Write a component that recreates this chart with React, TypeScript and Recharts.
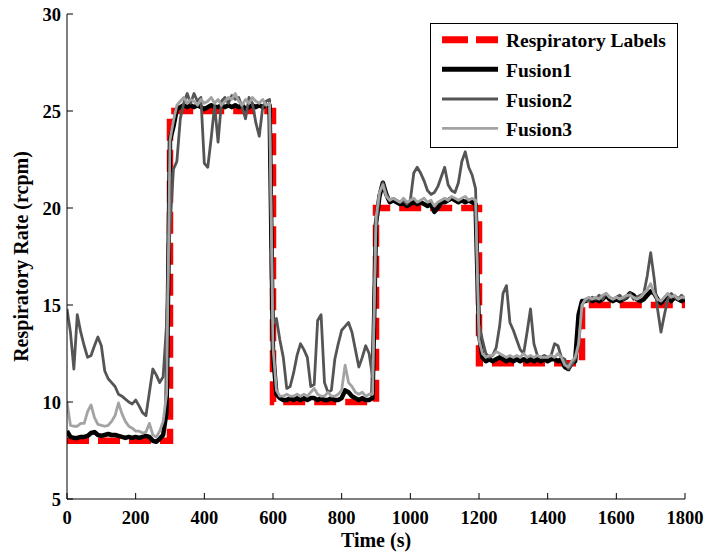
import React from 'react';
import { LineChart, Line, XAxis, YAxis, Legend } from 'recharts';

// sample times (s), one sample every 10 s from 0 to 1800
const times: number[] = Array.from({ length: 181 }, (_, i) => i * 10);

// respiratory labels (step function)
const labelTimes = [0, 300, 600, 900, 1200, 1500, 1800];
const labelValues = [8, 25, 10, 20, 12, 15, 15];

const fusion1 = [
  8.5, 8.2, 8.15, 8.15, 8.2, 8.2, 8.25, 8.4, 8.45, 8.3,
  8.25, 8.3, 8.35, 8.3, 8.3, 8.25, 8.2, 8.15, 8.2, 8.15,
  8.2, 8.15, 8.2, 8.25, 8.2, 8.0, 7.95, 8.1, 8.3, 9.5,
  23.5, 24.2, 25.1, 25.2, 25.3, 25.2, 25.3, 25.2, 25.3, 25.2,
  25.1, 25.2, 25.3, 25.2, 25.2, 25.3, 25.2, 25.3, 25.2, 25.3,
  25.2, 25.3, 25.1, 25.2, 25.3, 25.2, 25.3, 25.2, 25.3, 25.3,
  12.5, 10.4, 10.2, 10.1, 10.1, 10.2, 10.1, 10.2, 10.1, 10.2,
  10.1, 10.2, 10.2, 10.1, 10.2, 10.1, 10.1, 10.2, 10.1, 10.1,
  10.2, 10.6, 10.5, 10.3, 10.2, 10.1, 10.2, 10.1, 10.1, 10.2,
  19.2, 20.6, 21.3, 20.7, 20.3, 20.4, 20.3, 20.2, 20.3, 20.1,
  20.2, 20.3, 20.2, 20.3, 20.2, 20.1, 20.2, 19.8, 20.0, 20.3,
  20.3, 20.4, 20.5, 20.4, 20.3, 20.4, 20.3, 20.4, 20.3, 20.2,
  13.5, 12.3, 12.1, 12.2, 12.1, 12.2, 12.3, 12.2, 12.1, 12.2,
  12.1, 12.2, 12.1, 12.2, 12.1, 12.2, 12.1, 12.2, 12.1, 12.2,
  12.1, 12.2, 12.2, 12.1, 12.2, 11.8, 11.7, 12.0, 12.1, 14.5,
  15.2, 15.2, 15.3, 15.2, 15.3, 15.2, 15.3, 15.5, 15.3, 15.2,
  15.3, 15.2, 15.3, 15.4, 15.6, 15.5, 15.3, 15.2, 15.3, 15.5,
  15.7, 15.6, 15.3, 15.1, 15.3, 15.5, 15.2, 15.4, 15.3, 15.2, 15.3,
];

const fusion2 = [
  14.8, 13.6, 11.7, 14.5, 13.6, 12.9, 12.3, 12.4, 12.9, 13.35,
  12.9, 11.6, 11.2, 11.0, 10.8, 10.4, 10.3, 10.15, 10.0, 9.9,
  10.1, 9.8, 9.45, 9.3, 10.5, 11.7, 11.4, 11.0, 11.3, 14.0,
  19.0, 22.0, 22.4, 24.6, 25.4, 25.9, 25.4, 25.9, 25.5, 25.7,
  22.3, 22.1, 23.6, 25.3, 23.4, 25.5, 25.7, 25.4, 25.8, 25.6,
  25.7, 25.2, 24.6, 25.7, 25.4, 24.4, 23.7, 25.2, 25.5, 25.6,
  14.0, 14.3, 13.2, 12.3, 10.7, 10.8, 11.5, 12.4, 13.0, 12.7,
  12.3, 10.8, 10.9, 14.2, 14.5, 11.0, 10.5, 10.6, 12.2, 13.0,
  13.7, 13.9, 14.1, 13.6, 12.7, 11.8, 12.3, 12.9, 12.5, 11.3,
  19.0, 20.7, 21.3, 20.7, 20.4, 20.5, 20.4, 20.3, 20.4, 20.2,
  20.4, 21.8, 22.1, 21.8, 21.4, 20.9, 20.7, 20.8, 21.1, 21.6,
  22.1, 21.2, 20.9, 20.8, 21.3, 22.4, 22.9, 22.1, 21.7, 21.0,
  14.0, 13.2, 12.5, 12.3, 12.4, 12.8, 13.9, 15.6, 16.0, 14.1,
  13.7, 13.2, 12.7, 12.5, 13.6, 14.8, 13.0, 12.4, 12.3, 12.4,
  12.3, 12.4, 13.0, 12.9, 12.3, 12.2, 11.7, 11.9, 12.2, 12.8,
  15.0, 15.3, 15.2, 15.4, 15.3, 15.5, 15.3, 15.6, 15.4, 15.3,
  15.4, 15.5, 15.3, 15.4, 15.6, 15.3, 15.4, 15.5, 15.6, 16.5,
  17.7, 16.4, 14.8, 13.6, 14.5, 15.3, 15.6, 15.4, 15.3, 15.5, 15.3,
];

const fusion3 = [
  10.0, 8.8, 8.75, 8.75, 8.9, 8.9, 9.5, 9.85, 9.2, 8.85,
  8.8, 8.75, 8.8, 9.0, 9.3, 9.95, 9.4, 9.0, 8.75, 8.65,
  8.5, 8.5, 8.4, 8.45, 8.9, 8.3, 8.2, 8.5, 9.0, 10.4,
  23.5, 24.5, 25.3, 25.5, 25.7, 25.4, 25.6, 25.5, 25.3, 25.6,
  25.4, 25.5, 25.7, 25.4, 25.6, 25.3, 25.5, 25.7, 25.6, 25.9,
  25.5, 25.3, 25.6, 25.4, 25.7, 25.5, 25.4, 25.6, 25.3, 25.4,
  12.8, 10.6, 10.3, 10.3, 10.4, 10.3, 10.3, 10.4, 10.3, 10.4,
  10.3, 10.5, 10.7, 10.4, 10.3, 10.3, 10.5, 10.3, 10.3, 10.4,
  10.6, 11.9, 11.0, 10.8, 10.5, 10.4, 10.5, 10.3, 10.4, 10.4,
  19.5, 20.8, 21.2, 20.6, 20.4, 20.5, 20.4, 20.3, 20.5, 20.3,
  20.4, 20.5, 20.3, 20.4, 20.5, 20.3, 20.4, 20.1, 20.3, 20.4,
  20.5, 20.4, 20.6, 20.5, 20.4, 20.5, 20.6, 20.4, 20.5, 20.4,
  13.2, 12.5, 12.3, 12.4, 12.4, 12.6, 12.5, 12.4, 12.3, 12.4,
  12.3, 12.4, 12.3, 12.5, 12.3, 12.4, 12.3, 12.4, 12.3, 12.3,
  12.3, 12.4, 12.3, 12.5, 12.3, 11.9, 11.8, 12.1, 12.3, 13.0,
  15.0, 15.3, 15.4, 15.3, 15.4, 15.3, 15.5, 15.6, 15.4, 15.3,
  15.4, 15.3, 15.4, 15.5, 15.5, 15.4, 15.3, 15.4, 15.6, 15.8,
  16.1, 15.6, 15.3, 15.2, 15.4, 15.6, 15.4, 15.5, 15.3, 15.4, 15.4,
];

const xTicks = [0, 200, 400, 600, 800, 1000, 1200, 1400, 1600, 1800];
const yTicks = [5, 10, 15, 20, 25, 30];

const seriesNames = ['Respiratory Labels', 'Fusion1', 'Fusion2', 'Fusion3'];

const FONT = '"Liberation Serif", "Times New Roman", serif';
const RED = '#FF0000';
const C1 = '#000000';
const C2 = '#555555';
const C3 = '#A3A3A3';

const data = times.map((t, i) => ({ t, f1: fusion1[i], f2: fusion2[i], f3: fusion3[i] }));
const labelData = labelTimes.map((t, i) => ({ t, v: labelValues[i] }));

const tickStyle = { fill: '#000', fontSize: 18.5, fontWeight: 'bold', fontFamily: FONT };

const renderLegend = () => {
  const rows = [16.7, 46.3, 76, 105.3];
  return (
    <svg width={248} height={125} style={{ display: 'block' }}>
      <rect x={0.5} y={0.5} width={247} height={124} fill="#fff" stroke="#000" strokeWidth={1} />
      <line x1={12} x2={68} y1={rows[0]} y2={rows[0]} stroke={RED} strokeWidth={7} strokeDasharray="26 8" />
      <line x1={12} x2={68} y1={rows[1]} y2={rows[1]} stroke={C1} strokeWidth={5} />
      <line x1={12} x2={68} y1={rows[2]} y2={rows[2]} stroke={C2} strokeWidth={2.8} />
      <line x1={12} x2={68} y1={rows[3]} y2={rows[3]} stroke={C3} strokeWidth={2.8} />
      {seriesNames.map((n, i) => (
        <text key={n} x={76} y={rows[i] + 7.5} fontFamily={FONT} fontWeight="bold" fontSize={19.5} fill="#000">
          {n}
        </text>
      ))}
    </svg>
  );
};

const YLabel = (props: any) => {
  const vb = props.viewBox || { x: 17, y: 14, width: 50, height: 485 };
  const x = 28;
  const y = vb.y + vb.height / 2;
  return (
    <text
      x={x}
      y={y}
      transform={`rotate(-90, ${x}, ${y})`}
      textAnchor="middle"
      fontFamily={FONT}
      fontWeight="bold"
      fontSize={20}
      fill="#000"
    >
      Respiratory Rate (rcpm)
    </text>
  );
};

const XLabel = (props: any) => {
  const vb = props.viewBox || { x: 67, y: 499, width: 618, height: 30 };
  const x = vb.x + vb.width / 2;
  return (
    <text x={x} y={547} textAnchor="middle" fontFamily={FONT} fontWeight="bold" fontSize={20} fill="#000">
      Time (s)
    </text>
  );
};

export default function App() {
  return (
    <div style={{ position: 'absolute', left: 0, top: 0, width: 705, height: 554, background: '#fff' }}>
      <LineChart
        width={705}
        height={554}
        data={data}
        margin={{ top: 14, right: 20, bottom: 25, left: 17 }}
      >
        <XAxis
          dataKey="t"
          type="number"
          domain={[0, 1800]}
          ticks={xTicks}
          interval={0}
          height={30}
          tickSize={-6}
          tickMargin={18}
          tick={tickStyle}
          axisLine={{ stroke: '#000', strokeWidth: 1 }}
          tickLine={{ stroke: '#000', strokeWidth: 1 }}
          label={XLabel}
          allowDataOverflow
        />
        <XAxis
          xAxisId="top"
          orientation="top"
          dataKey="t"
          type="number"
          domain={[0, 1800]}
          ticks={xTicks}
          interval={0}
          height={0}
          tickSize={-6}
          tick={false}
          axisLine={{ stroke: '#000', strokeWidth: 1 }}
          tickLine={{ stroke: '#000', strokeWidth: 1 }}
          allowDataOverflow
        />
        <YAxis
          type="number"
          domain={[5, 30]}
          ticks={yTicks}
          interval={0}
          width={50}
          tickSize={-6}
          tickMargin={12}
          tick={tickStyle}
          axisLine={{ stroke: '#000', strokeWidth: 1 }}
          tickLine={{ stroke: '#000', strokeWidth: 1 }}
          label={YLabel}
          allowDataOverflow
        />
        <YAxis
          yAxisId="right"
          orientation="right"
          type="number"
          domain={[5, 30]}
          ticks={yTicks}
          interval={0}
          width={0}
          tickSize={-6}
          tick={false}
          axisLine={{ stroke: '#000', strokeWidth: 1 }}
          tickLine={{ stroke: '#000', strokeWidth: 1 }}
          allowDataOverflow
        />
        <Line
          data={labelData}
          dataKey="v"
          name={seriesNames[0]}
          type="stepAfter"
          stroke={RED}
          strokeWidth={6.5}
          strokeDasharray="22 9"
          dot={false}
          activeDot={false}
          isAnimationActive={false}
        />
        <Line
          dataKey="f1"
          name={seriesNames[1]}
          type="linear"
          stroke={C1}
          strokeWidth={4.5}
          strokeLinejoin="round"
          dot={false}
          activeDot={false}
          isAnimationActive={false}
        />
        <Line
          dataKey="f2"
          name={seriesNames[2]}
          type="linear"
          stroke={C2}
          strokeWidth={2.8}
          strokeLinejoin="round"
          dot={false}
          activeDot={false}
          isAnimationActive={false}
        />
        <Line
          dataKey="f3"
          name={seriesNames[3]}
          type="linear"
          stroke={C3}
          strokeWidth={2.8}
          strokeLinejoin="round"
          dot={false}
          activeDot={false}
          isAnimationActive={false}
        />
        <Legend
          layout="vertical"
          align="center"
          verticalAlign="middle"
          wrapperStyle={{ position: 'absolute', left: 430, top: 23, width: 248, height: 125 }}
          content={renderLegend}
        />
      </LineChart>
    </div>
  );
}
